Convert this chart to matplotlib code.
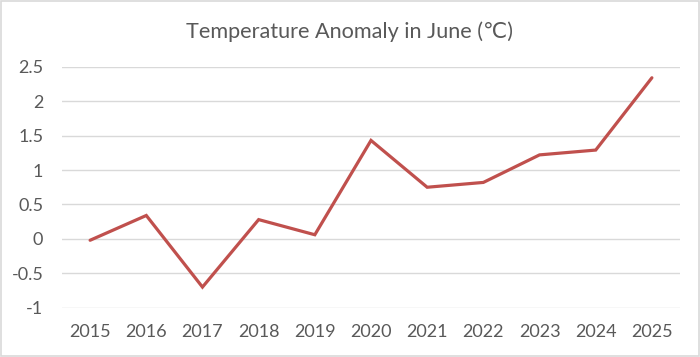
import matplotlib
matplotlib.use('Agg')
import matplotlib.pyplot as plt
from matplotlib.patches import Rectangle

years = ['2015', '2016', '2017', '2018', '2019', '2020',
         '2021', '2022', '2023', '2024', '2025']
anomaly = [-0.02, 0.34, -0.70, 0.28, 0.06, 1.43,
           0.75, 0.82, 1.22, 1.29, 2.34]
yticks = [-1, -0.5, 0, 0.5, 1, 1.5, 2, 2.5]
ytick_labels = ['-1', '-0.5', '0', '0.5', '1', '1.5', '2', '2.5']

plt.rcParams['font.family'] = ['Lato', 'DejaVu Sans']

fig = plt.figure(figsize=(7, 3.57), dpi=100)
fig.patch.set_facecolor('white')
fig.patches.append(Rectangle((0.002, 0.003), 0.996, 0.994, transform=fig.transFigure,
                             fill=False, edgecolor='#D9D9D9', linewidth=1.2))

ax = fig.add_axes([0.0886, 0.138, 0.8828, 0.675])
x = list(range(len(years)))
ax.plot(x, anomaly, color='#C0504D', linewidth=2.3, solid_capstyle='round',
        solid_joinstyle='miter', zorder=3)

ax.set_xlim(-0.5, len(years) - 0.5)
ax.set_ylim(-1, 2.5)
ax.set_yticks(yticks)
ax.set_yticklabels(ytick_labels)
ax.set_xticks(x)
ax.set_xticklabels(years)
ax.tick_params(length=0, labelsize=13, colors='#595959')
ax.tick_params(axis='y', pad=13.5)
ax.tick_params(axis='x', pad=12)
ax.grid(axis='y', color='#D9D9D9', linewidth=1)
ax.set_axisbelow(True)
for s in ax.spines.values():
    s.set_visible(False)

fig.text(0.5, 0.91, 'Temperature Anomaly in June (\u2103)', ha='center', va='center',
         fontsize=15.6, color='#595959')

fig.savefig('out.png', dpi=100, facecolor='white')
